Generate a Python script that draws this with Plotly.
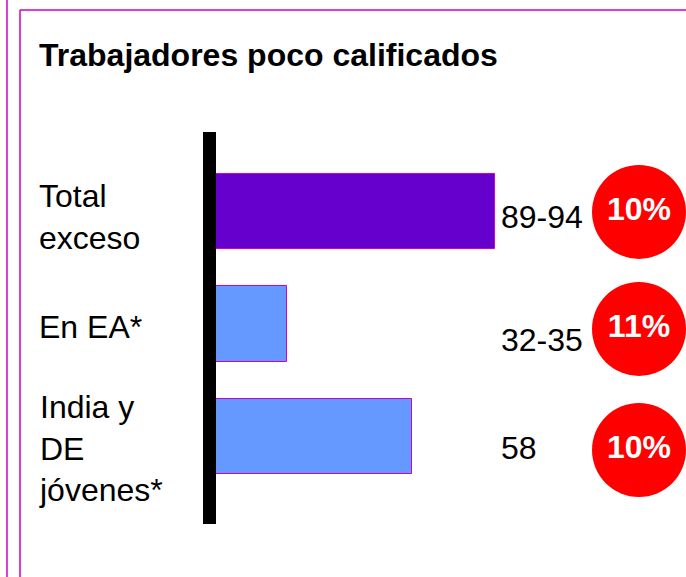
import plotly.graph_objects as go

# ---- data ----
title = "Trabajadores poco calificados"
categories = ["Total<br>exceso", "En EA*", "India y<br>DE<br>jóvenes*"]
bar_values = [94, 24, 66]
value_labels = ["89-94", "32-35", "58"]
badge_labels = ["10%", "11%", "10%"]
bar_colors = ["#6600CC", "#6699FF", "#6699FF"]

W, H = 686, 577
MAGENTA = "#CC00CC"
FONT = "Liberation Sans, Arial, sans-serif"
FS = 32

idx = list(range(len(categories)))

# axis geometry
x0_px, x_end_px = 216, 686
x_range_max = 94 * (x_end_px - x0_px) / (495 - x0_px)
y_top_px, y_bot_px = 132, 524
ystep = 112.5
yc0 = 211.5
y_lo = 0 - (yc0 - y_top_px) / ystep
y_hi = 2 + (y_bot_px - (yc0 + 2 * ystep)) / ystep

label_off = [0.05, 0.027, 0.11]
value_off = [0.05, 0.142, 0.104]
badge_off = [0.004, 0.044, 0.12]
badge_x = (639 - x0_px) / (x_end_px - x0_px) * x_range_max

fig = go.Figure()
fig.add_trace(go.Bar(
    x=bar_values, y=idx, orientation="h", width=0.667,
    marker=dict(color=bar_colors, line=dict(color=MAGENTA, width=1)),
    hoverinfo="skip", showlegend=False,
))
fig.add_trace(go.Scatter(
    x=[badge_x] * len(idx), y=[i + o for i, o in zip(idx, badge_off)],
    mode="markers+text", text=badge_labels, textposition="middle center",
    marker=dict(size=94, color="#FF0000", line=dict(width=0)),
    textfont=dict(family=FONT, size=FS, color="white", weight="bold"),
    cliponaxis=False, hoverinfo="skip", showlegend=False,
))

for i, cat in enumerate(categories):
    fig.add_annotation(x=38 / W, xref="paper", y=i + label_off[i], yref="y",
                       text=cat, showarrow=False, xanchor="left", align="left",
                       borderpad=0, font=dict(family=FONT, size=FS, color="black"))
    fig.add_annotation(x=500 / W, xref="paper", y=i + value_off[i], yref="y",
                       text=value_labels[i], showarrow=False, xanchor="left",
                       borderpad=0, font=dict(family=FONT, size=FS, color="black"))

fig.add_annotation(x=38 / W, xref="paper", y=1 - 55 / H, yref="paper",
                   text="<b>" + title + "</b>", showarrow=False, xanchor="left",
                   yanchor="middle", borderpad=0,
                   font=dict(family=FONT, size=FS, color="black"))

# frames
fig.add_shape(type="line", xref="paper", yref="paper", x0=7 / W, x1=7 / W, y0=0, y1=1,
              line=dict(color=MAGENTA, width=1.5))
fig.add_shape(type="line", xref="paper", yref="paper", x0=20 / W, x1=20 / W, y0=0, y1=1 - 10 / H,
              line=dict(color=MAGENTA, width=1.5))
fig.add_shape(type="line", xref="paper", yref="paper", x0=20 / W, x1=1, y0=1 - 10 / H, y1=1 - 10 / H,
              line=dict(color=MAGENTA, width=1.5))
# black axis bar
fig.add_shape(type="line", xref="paper", yref="y domain", x0=209.5 / W, x1=209.5 / W, y0=0, y1=1,
              line=dict(color="black", width=13))

fig.update_layout(
    width=W, height=H, margin=dict(l=0, r=0, t=0, b=0),
    paper_bgcolor="white", plot_bgcolor="white",
    xaxis=dict(domain=[x0_px / W, 1], range=[0, x_range_max], visible=False, fixedrange=True),
    yaxis=dict(domain=[1 - y_bot_px / H, 1 - y_top_px / H], range=[y_hi, y_lo],
               visible=False, fixedrange=True),
    bargap=0,
)

fig.write_html("out.html", config={"displayModeBar": False},
               post_script="document.body.style.margin='0px';document.body.style.overflow='hidden';")
